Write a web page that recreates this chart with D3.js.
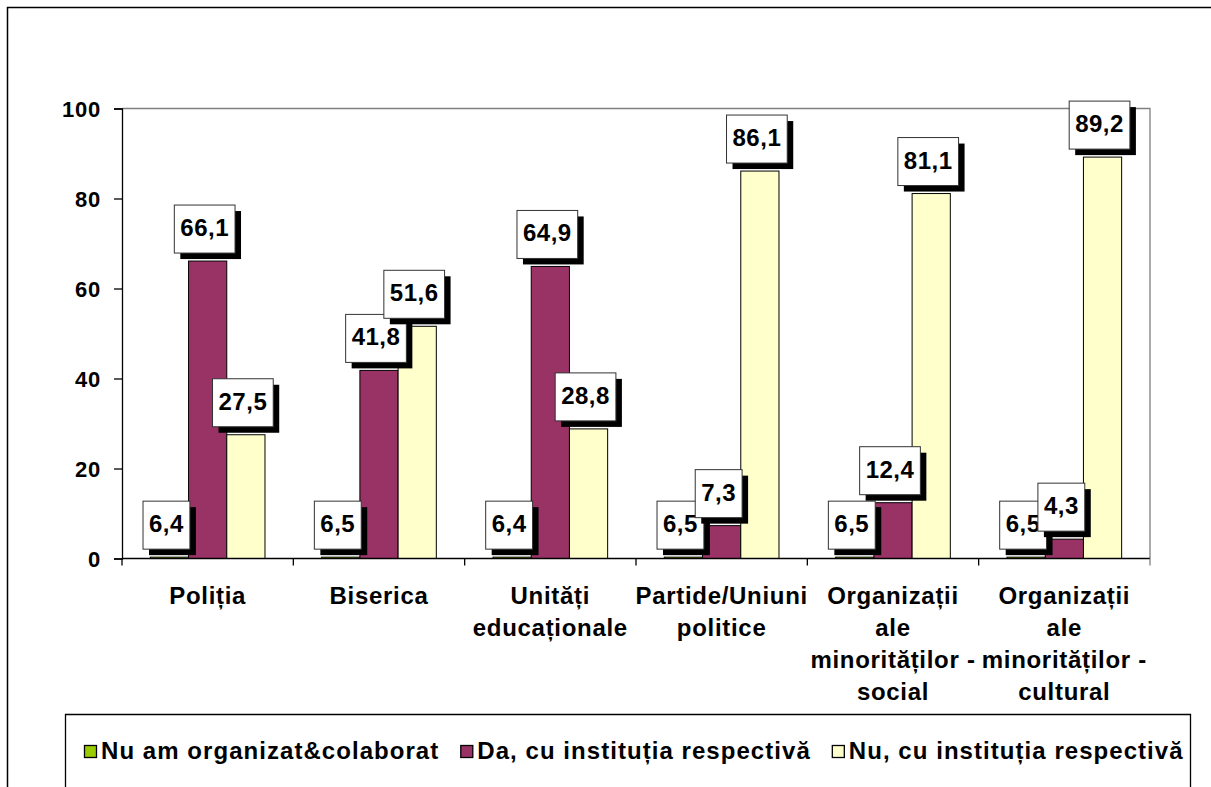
<!DOCTYPE html>
<html lang="ro">
<head>
<meta charset="utf-8">
<script src="https://d3js.org/d3.v7.min.js"></script>
<style>
body { margin: 0; background: #fff; }
svg text { font-family: "Liberation Sans", Arial, sans-serif; font-weight: bold; fill: #000; }
</style>
</head>
<body>
<div id="chart"></div>
<script>
// categories (each label already split in lines)
var categories = ["Poliția", "Biserica", "Unități educaționale", "Partide/Uniuni politice",
  "Organizații ale minorităților - social", "Organizații ale minorităților - cultural"];
var catLines = [["Poliția"], ["Biserica"], ["Unități", "educaționale"], ["Partide/Uniuni", "politice"],
  ["Organizații", "ale", "minorităților -", "social"], ["Organizații", "ale", "minorităților -", "cultural"]];

var seriesNames = ["Nu am organizat&colaborat", "Da, cu instituția respectivă", "Nu, cu instituția respectivă"];
var seriesColors = ["#99cc00", "#993366", "#ffffcc"];

// printed data labels
var nuOrganizat = [6.4, 6.5, 6.4, 6.5, 6.5, 6.5];
var daInstitutie = [66.1, 41.8, 64.9, 7.3, 12.4, 4.3];
var nuInstitutie = [27.5, 51.6, 28.8, 86.1, 81.1, 89.2];
// the green bars are drawn as thin slivers on the axis in the original picture,
// their labels sit right on the axis too
var nuOrganizatBar = [0.3, 0.3, 0.3, 0.3, 0.3, 0.3];

var yTicks = [0, 20, 40, 60, 80, 100];

var width = 1211, height = 787;
var svg = d3.select("#chart").append("svg")
  .attr("width", width).attr("height", height);

svg.append("rect").attr("width", width).attr("height", height).attr("fill", "#fff");

// outer chart frame (runs off the right and bottom of the picture)
svg.append("path")
  .attr("d", "M7.5," + (height + 5) + "V7.5H" + (width + 5))
  .attr("fill", "none").attr("stroke", "#000").attr("stroke-width", 1.5);

var plotLeft = 122, plotRight = 1150, plotTop = 108.5, plotBottom = 558.5;

var y = d3.scaleLinear().domain([0, 100]).range([plotBottom, plotTop]);
var x = d3.scaleBand().domain(categories).range([plotLeft, plotRight]);
var xs = d3.scaleBand().domain(seriesNames).range([0, x.bandwidth()]).paddingOuter(0.742);

// plot area border (gray, top and right)
svg.append("path")
  .attr("d", "M" + plotLeft + "," + plotTop + "H" + plotRight + "V" + plotBottom)
  .attr("fill", "none").attr("stroke", "#808080").attr("stroke-width", 1.3);

var rows = categories.map(function(c, i) {
  return [
    {cat: c, s: seriesNames[0], v: nuOrganizatBar[i], label: nuOrganizat[i], col: seriesColors[0]},
    {cat: c, s: seriesNames[1], v: daInstitutie[i], label: daInstitutie[i], col: seriesColors[1]},
    {cat: c, s: seriesNames[2], v: nuInstitutie[i], label: nuInstitutie[i], col: seriesColors[2]}
  ];
});

// bars
var groups = svg.append("g").selectAll("g").data(rows).enter().append("g")
  .attr("transform", function(d) { return "translate(" + x(d[0].cat) + ",0)"; });

groups.selectAll("rect").data(function(d) { return d; }).enter().append("rect")
  .attr("x", function(d) { return xs(d.s); })
  .attr("y", function(d) { return y(d.v); })
  .attr("width", xs.bandwidth())
  .attr("height", function(d) { return y(0) - y(d.v); })
  .attr("fill", function(d) { return d.col; })
  .attr("stroke", "#000").attr("stroke-width", 1);

// y axis
var yAxis = svg.append("g")
  .attr("transform", "translate(" + plotLeft + ",0)")
  .call(d3.axisLeft(y).tickValues(yTicks).tickSize(8).tickPadding(13));
yAxis.select(".domain").attr("stroke", "#000").attr("stroke-width", 1.3);
yAxis.selectAll(".tick line").attr("stroke", "#000").attr("stroke-width", 1.3);
yAxis.selectAll(".tick text")
  .style("font-size", "22px").style("letter-spacing", "0.8px")
  .attr("font-family", null).attr("dy", "0.36em");

// x axis line + boundary ticks
svg.append("line")
  .attr("x1", plotLeft).attr("x2", plotRight).attr("y1", plotBottom).attr("y2", plotBottom)
  .attr("stroke", "#000").attr("stroke-width", 1.3);
var bounds = categories.map(function(c) { return x(c); }).concat([plotRight]);
svg.append("g").selectAll("line").data(bounds).enter().append("line")
  .attr("x1", function(d) { return d; }).attr("x2", function(d) { return d; })
  .attr("y1", plotBottom).attr("y2", plotBottom + 7)
  .attr("stroke", function(d, i) { return i === bounds.length - 1 ? "#808080" : "#000"; })
  .attr("stroke-width", 1.3);

// category labels
var catText = svg.append("g").selectAll("text").data(catLines).enter().append("text")
  .attr("text-anchor", "middle")
  .style("font-size", "24px").style("letter-spacing", "0.7px");
catText.selectAll("tspan").data(function(d, i) { return d.map(function(t) { return {t: t, i: i}; }); })
  .enter().append("tspan")
  .attr("x", function(d) { return x(categories[d.i]) + x.bandwidth() / 2; })
  .attr("y", function(d, j) { return 604 + j * 32; })
  .text(function(d) { return d.t; });

// data labels: white box with black drop shadow, series by series
var fmt = function(v) { return d3.format(".1f")(v).replace(".", ","); };
var boxH = 48, sh = 6;
seriesNames.forEach(function(s, k) {
  rows.forEach(function(r) {
    var d = r[k];
    var cx = x(d.cat) + xs(d.s) + xs.bandwidth() / 2;
    var g = svg.append("g");
    var t = g.append("text")
      .style("font-size", "24px").style("letter-spacing", "0.5px")
      .text(fmt(d.label));
    var w = t.node().getComputedTextLength() + 12;
    var bx = cx - (w + sh) / 2;
    var by = y(d.v) - 2 - sh - boxH;
    g.insert("rect", "text").attr("x", bx + sh).attr("y", by + sh)
      .attr("width", w).attr("height", boxH).attr("fill", "#000");
    g.insert("rect", "text").attr("x", bx).attr("y", by)
      .attr("width", w).attr("height", boxH)
      .attr("fill", "#fff").attr("stroke", "#333").attr("stroke-width", 1);
    t.attr("x", bx + w / 2).attr("y", by + 31).attr("text-anchor", "middle");
  });
});

// legend
var legend = svg.append("g");
legend.append("path")
  .attr("d", "M65.5," + (height + 5) + "V714.5H1190.5V" + (height + 5))
  .attr("fill", "none").attr("stroke", "#000").attr("stroke-width", 1.3);
var lx = 84;
seriesNames.forEach(function(s, k) {
  legend.append("rect").attr("x", lx + 0.5).attr("y", 745.5).attr("width", 12).attr("height", 12)
    .attr("fill", seriesColors[k]).attr("stroke", "#000").attr("stroke-width", 1.3);
  var t = legend.append("text").attr("x", lx + 17).attr("y", 759)
    .style("font-size", "24px").style("letter-spacing", "1.05px").text(s);
  lx += 17 + t.node().getComputedTextLength() + 21;
});
</script>
</body>
</html>
